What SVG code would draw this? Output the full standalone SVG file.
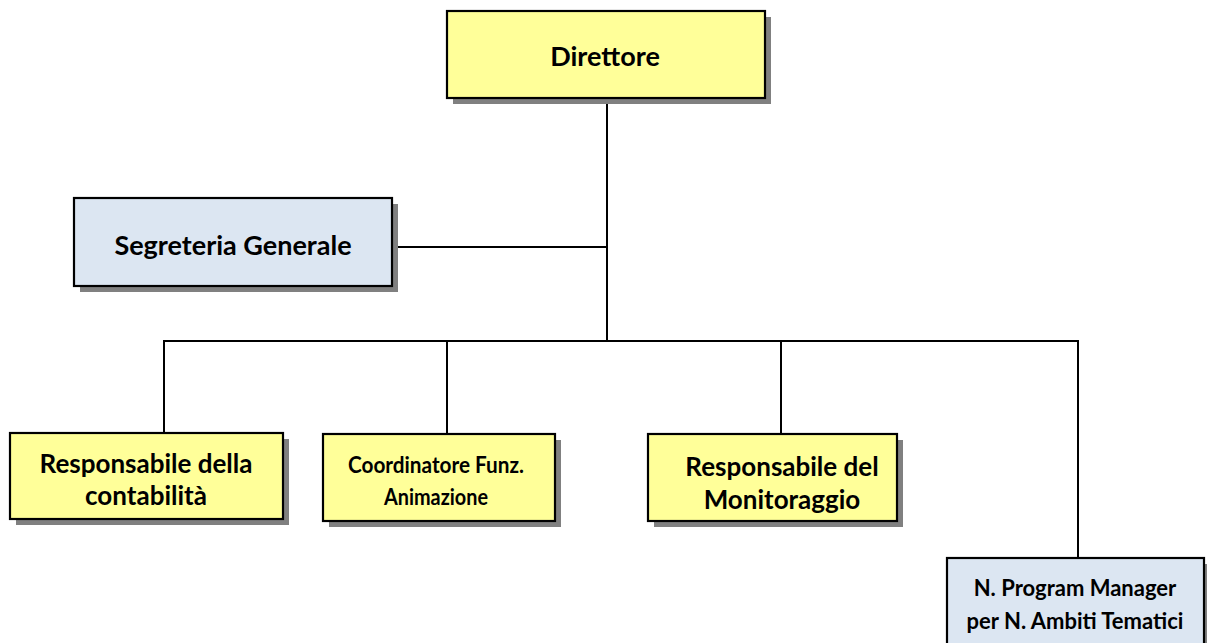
<svg xmlns="http://www.w3.org/2000/svg" width="1207" height="643" viewBox="0 0 1207 643">
<style>
.sh{fill:#808080}
.y{fill:#FFFF99;stroke:#000;stroke-width:2.2}
.b{fill:#DCE6F2;stroke:#000;stroke-width:2.2}
.t{font-family:Lato,"Open Sans",sans-serif;font-weight:bold;fill:#000;text-anchor:middle}
.c{stroke:#000;stroke-width:2;fill:none}
</style>
<rect width="1207" height="643" fill="#fff"/>
<g id="connectors">
<line class="c" x1="607" y1="98" x2="607" y2="341"/>
<line class="c" x1="393" y1="247" x2="607" y2="247"/>
<polyline class="c" points="164,433 164,341 1078,341 1078,559"/>
<line class="c" x1="447" y1="341" x2="447" y2="434"/>
<line class="c" x1="781" y1="341" x2="781" y2="434"/>
</g>
<g id="direttore">
<rect class="sh" x="453" y="17" width="318" height="87"/>
<rect class="y" x="447" y="11" width="318" height="87"/>
<text class="t" x="605" y="66" font-size="27">Direttore</text>
</g>
<g id="segreteria">
<rect class="sh" x="80" y="204" width="318" height="88"/>
<rect class="b" x="74" y="198" width="318" height="88"/>
<text class="t" x="233" y="255" font-size="27">Segreteria Generale</text>
</g>
<g id="contabilita">
<rect class="sh" x="16" y="439" width="273" height="86"/>
<rect class="y" x="10" y="433" width="273" height="86"/>
<text class="t" x="146" y="473" font-size="26">Responsabile della</text>
<text class="t" x="146" y="505" font-size="26">contabilità</text>
</g>
<g id="coordinatore">
<rect class="sh" x="329" y="440" width="232" height="87"/>
<rect class="y" x="323" y="434" width="232" height="87"/>
<text class="t" x="436" y="473" font-size="22" textLength="176" lengthAdjust="spacingAndGlyphs">Coordinatore Funz.</text>
<text class="t" x="436" y="505" font-size="22" textLength="104" lengthAdjust="spacingAndGlyphs">Animazione</text>
</g>
<g id="monitoraggio">
<rect class="sh" x="654" y="440" width="249" height="87"/>
<rect class="y" x="648" y="434" width="249" height="87"/>
<text class="t" x="782" y="476" font-size="26">Responsabile del</text>
<text class="t" x="782" y="509" font-size="26">Monitoraggio</text>
</g>
<g id="program-manager">
<rect class="sh" x="953" y="564" width="258" height="90"/>
<rect class="b" x="947" y="558" width="257" height="90"/>
<text class="t" x="1075" y="596" font-size="22">N. Program Manager</text>
<text class="t" x="1075" y="629" font-size="22">per N. Ambiti Tematici</text>
</g>
</svg>
